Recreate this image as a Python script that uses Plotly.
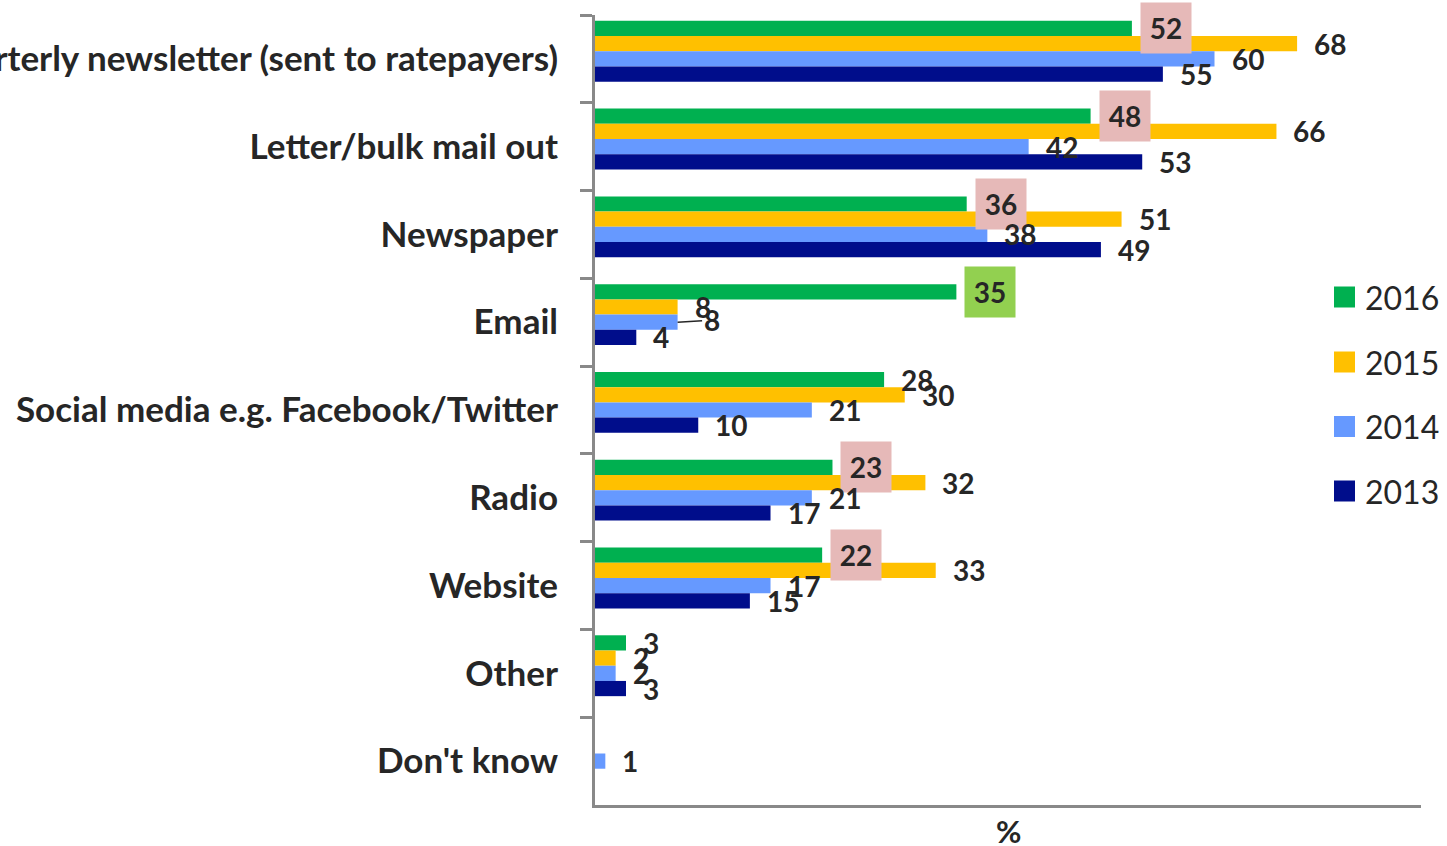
import plotly.graph_objects as go

# Communication channels (top to bottom) and share of respondents (%) per survey year
categories = [
    "Quarterly newsletter (sent to ratepayers)",
    "Letter/bulk mail out",
    "Newspaper",
    "Email",
    "Social media e.g. Facebook/Twitter",
    "Radio",
    "Website",
    "Other",
    "Don't know",
]
years = ["2016", "2015", "2014", "2013"]
v2016 = [52, 48, 36, 35, 28, 23, 22, 3, None]
v2015 = [68, 66, 51, 8, 30, 32, 33, 2, None]
v2014 = [60, 42, 38, 8, 21, 21, 17, 2, 1]
v2013 = [55, 53, 49, 4, 10, 17, 15, 3, None]
series = [v2016, v2015, v2014, v2013]

colors = ["#00B050", "#FFC000", "#6699FF", "#000D8B"]
# background boxes behind the 2016 value labels
box_2016 = ["#E6B9B8", "#E6B9B8", "#E6B9B8", "#92D050", None,
            "#E6B9B8", "#E6B9B8", None, None]

FONT = "Lato"
TEXT = "#262626"
AXIS = "#898989"

W, H = 1447, 846
M = dict(l=595, r=26, t=15, b=41)
BARGAP = 0.133
N_SLOTS = 5  # four years plus one empty slot in each group

plot_h = H - M["t"] - M["b"]
band = plot_h / len(categories)
slot = band * (1 - BARGAP) / N_SLOTS

fig = go.Figure()
for name, vals, col in zip(years, series, colors):
    fig.add_trace(go.Bar(
        y=categories, x=vals, name=name, orientation="h",
        marker=dict(color=col, line=dict(width=0)),
        showlegend=False,
    ))
# empty fifth series keeps the group layout of five slots
fig.add_trace(go.Bar(
    y=categories, x=[0] * len(categories), orientation="h",
    marker=dict(color="rgba(0,0,0,0)", line=dict(width=0)),
    showlegend=False, hoverinfo="skip",
))

annotations = []
for i, vals in enumerate(series):
    yshift = (2 - i) * slot
    for j, v in enumerate(vals):
        if v is None:
            continue
        a = dict(x=v, y=categories[j], xref="x", yref="y",
                 text=f"{v:g}", showarrow=False,
                 font=dict(family=FONT, size=28, color=TEXT, weight="bold"),
                 xanchor="left", yanchor="middle", yshift=yshift, xshift=15)
        if i == 0 and box_2016[j]:
            a.update(bgcolor=box_2016[j], width=48, height=48,
                     align="center", valign="middle", xshift=8)
        if i == 2 and categories[j] == "Email":
            # label pushed aside with a leader line back to the bar end
            a.update(showarrow=True, arrowhead=0, arrowwidth=1.5,
                     arrowcolor=TEXT, ax=34, ay=-2, xanchor="center",
                     xshift=0, standoff=0)
        annotations.append(a)

# legend: coloured squares with year labels on the right side of the plot
plot_w = W - M["l"] - M["r"]
leg_px_y = [297, 362, 426.5, 491]
shapes = []
for name, col, py in zip(years, colors, leg_px_y):
    yc = (H - M["b"] - py) / plot_h
    half = 10.5 / plot_h
    shapes.append(dict(type="rect", xref="paper", yref="paper",
                       x0=(1334 - M["l"]) / plot_w, x1=(1355 - M["l"]) / plot_w,
                       y0=yc - half, y1=yc + half,
                       fillcolor=col, line=dict(width=0)))
    annotations.append(dict(x=(1363 - M["l"]) / plot_w, y=yc, xref="paper",
                            yref="paper", text=name, showarrow=False,
                            xanchor="left", yanchor="middle",
                            font=dict(family=FONT, size=32, color=TEXT)))

# axis title
annotations.append(dict(x=0.5, y=0, xref="paper", yref="paper", text="%",
                        showarrow=False, xanchor="center", yanchor="middle",
                        yshift=-26, height=30, valign="middle",
                        font=dict(family=FONT, size=31, color=TEXT, weight="bold")))

fig.update_layout(
    width=W, height=H, margin=M,
    paper_bgcolor="white", plot_bgcolor="white",
    barmode="group", bargap=BARGAP, bargroupgap=0,
    showlegend=False,
    annotations=annotations, shapes=shapes,
    xaxis=dict(range=[0, 80], showticklabels=False, ticks="", showgrid=False,
               zeroline=False, showline=True, linewidth=3, linecolor=AXIS),
    yaxis=dict(type="category", range=[len(categories) - 0.5, -0.5],
               tickson="boundaries", ticks="outside", ticklen=12, tickwidth=3,
               tickcolor=AXIS, showline=True, linewidth=3, linecolor=AXIS,
               showgrid=False, zeroline=False, automargin=False,
               ticklabelstandoff=27,
               tickfont=dict(family=FONT, size=35, color=TEXT, weight="bold")),
)

fig.write_html("out.html")
